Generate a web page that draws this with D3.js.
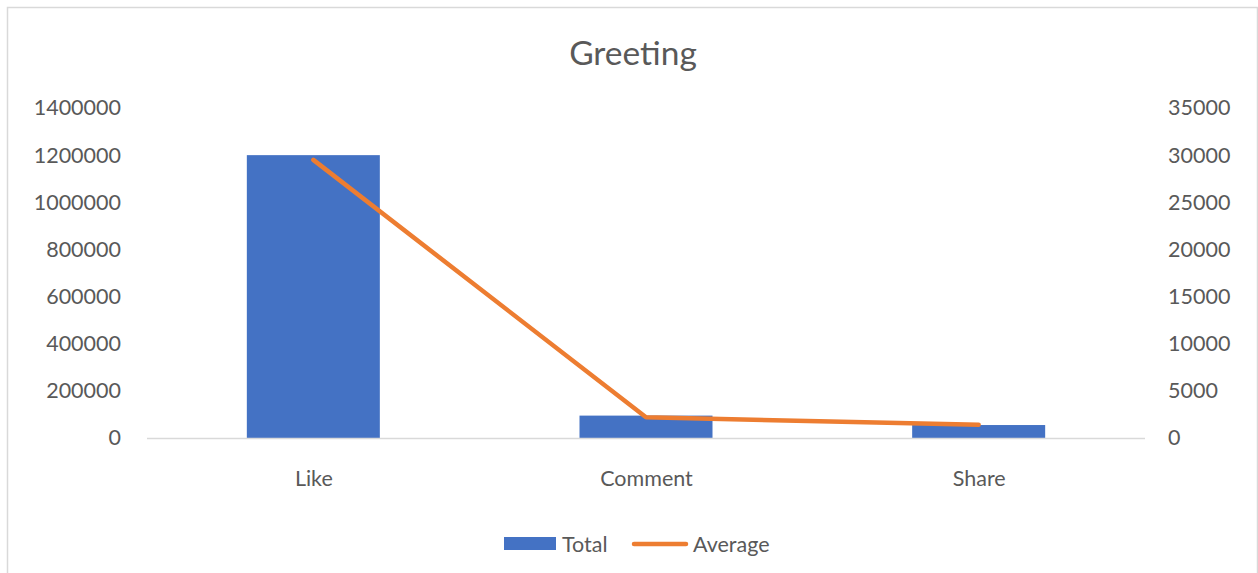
<!DOCTYPE html>
<html><head><meta charset="utf-8">
<script src="https://cdn.jsdelivr.net/npm/d3@7"></script>
<style>
html,body{margin:0;padding:0;background:#fff;}
svg{display:block;font-family:Lato,"Open Sans",sans-serif;}
</style></head>
<body>
<svg id="chart" width="1258" height="573"></svg>
<script>
const categories = ["Like", "Comment", "Share"];
const totalValues = [1200000, 95000, 55000];
const averageValues = [29500, 2200, 1400];
const leftTicks = [0, 200000, 400000, 600000, 800000, 1000000, 1200000, 1400000];
const rightTicks = [0, 5000, 10000, 15000, 20000, 25000, 30000, 35000];
const seriesNames = ["Total", "Average"];

const svg = d3.select("#chart");
const textColor = "#595959";
const barColor = "#4472C4", lineColor = "#ED7D31";
const fs = 21.5;

svg.append("rect").attr("x", 7.5).attr("y", 7.5).attr("width", 1250).attr("height", 600)
  .attr("fill", "#fff").attr("stroke", "#D9D9D9").attr("stroke-width", 1.5);

const plot = {left: 147, right: 1145, top: 108, bottom: 438};

const xc = d3.scalePoint().domain(categories).range([plot.left, plot.right]).padding(0.5);
const yL = d3.scaleLinear().domain([0, 1400000]).range([plot.bottom, plot.top]);
const yR = d3.scaleLinear().domain([0, 35000]).range([plot.bottom, plot.top]);

// title
svg.append("text").attr("x", 633).attr("y", 65).attr("text-anchor", "middle")
  .attr("fill", textColor).attr("font-size", 33.5).text("Greeting");

// left axis
const axL = d3.axisLeft(yL).tickValues(leftTicks).tickSize(0).tickPadding(0).tickFormat(d3.format("d"));
const gL = svg.append("g").attr("transform", `translate(121,0)`).call(axL);
gL.select(".domain").remove();
gL.selectAll("text").attr("fill", textColor).attr("font-size", fs).attr("font-family", "Lato");

// right axis
const axR = d3.axisRight(yR).tickValues(rightTicks).tickSize(0).tickPadding(0).tickFormat(d3.format("d"));
const gR = svg.append("g").attr("transform", `translate(1168,0)`).call(axR);
gR.select(".domain").remove();
gR.selectAll("text").attr("fill", textColor).attr("font-size", fs).attr("font-family", "Lato");

// bars
svg.append("g").selectAll("rect").data(categories).join("rect")
  .attr("x", d => xc(d) - 66.5).attr("width", 133)
  .attr("y", (d, i) => yL(totalValues[i])).attr("height", (d, i) => plot.bottom - yL(totalValues[i]))
  .attr("fill", barColor);

// baseline
svg.append("line").attr("x1", plot.left).attr("x2", plot.right).attr("y1", plot.bottom + 0.5).attr("y2", plot.bottom + 0.5)
  .attr("stroke", "#D9D9D9").attr("stroke-width", 1.5);

// x axis labels
const axB = d3.axisBottom(xc).tickSize(0).tickPadding(0);
const gB = svg.append("g").attr("transform", `translate(0,471)`).call(axB);
gB.select(".domain").remove();
gB.selectAll("text").attr("fill", textColor).attr("font-size", fs).attr("font-family", "Lato");

// line
const line = d3.line().x((d, i) => xc(categories[i])).y(d => yR(d));
svg.append("path").datum(averageValues).attr("d", line).attr("fill", "none")
  .attr("stroke", lineColor).attr("stroke-width", 4.5).attr("stroke-linecap", "round").attr("stroke-linejoin", "round");

// legend
const lg = svg.append("g");
lg.append("rect").attr("x", 504).attr("y", 537).attr("width", 52).attr("height", 13).attr("fill", barColor);
lg.append("text").attr("x", 562).attr("y", 552).attr("fill", textColor).attr("font-size", fs).text(seriesNames[0]);
lg.append("line").attr("x1", 634).attr("x2", 686).attr("y1", 544).attr("y2", 544)
  .attr("stroke", lineColor).attr("stroke-width", 4.5).attr("stroke-linecap", "round");
lg.append("text").attr("x", 693).attr("y", 552).attr("fill", textColor).attr("font-size", fs).text(seriesNames[1]);
</script>
</body></html>
